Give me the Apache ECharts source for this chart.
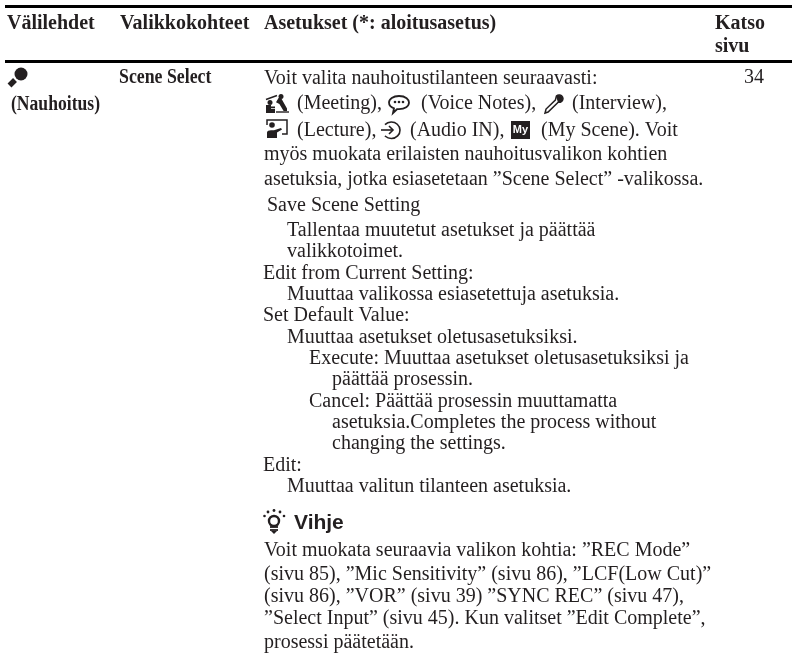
<!DOCTYPE html>
<html>
<head>
<meta charset="utf-8">
<style>html,body{margin:0;padding:0;background:#fff}#main{width:792px;height:654px}</style>
<script src="https://cdn.jsdelivr.net/npm/echarts@6/dist/echarts.min.js"></script>
</head>
<body>
<div id="main"></div>
<script>
// table content
var headerLabels = ["Välilehdet", "Valikkokohteet", "Asetukset (*: aloitusasetus)", "Katso", "sivu"];
var tabLabel = "(Nauhoitus)";
var menuLabel = "Scene Select";
var pageLabel = "34";
var sceneLine2 = ["(Meeting),", "(Voice Notes),", "(Interview),"];
var sceneLine3 = ["(Lecture),", "(Audio IN),", "(My Scene). Voit"];
var settingLines = [
	"Voit valita nauhoitustilanteen seuraavasti:",
	"myös muokata erilaisten nauhoitusvalikon kohtien",
	"asetuksia, jotka esiasetetaan ”Scene Select” -valikossa.",
	"Save Scene Setting",
	"Tallentaa muutetut asetukset ja päättää",
	"valikkotoimet.",
	"Edit from Current Setting:",
	"Muuttaa valikossa esiasetettuja asetuksia.",
	"Set Default Value:",
	"Muuttaa asetukset oletusasetuksiksi.",
	"Execute: Muuttaa asetukset oletusasetuksiksi ja",
	"päättää prosessin.",
	"Cancel: Päättää prosessin muuttamatta",
	"asetuksia.Completes the process without",
	"changing the settings.",
	"Edit:",
	"Muuttaa valitun tilanteen asetuksia."
];
var tipTitle = "Vihje";
var tipLines = [
	"Voit muokata seuraavia valikon kohtia: ”REC Mode”",
	"(sivu 85), ”Mic Sensitivity” (sivu 86), ”LCF(Low Cut)”",
	"(sivu 86), ”VOR” (sivu 39) ”SYNC REC” (sivu 47),",
	"”Select Input” (sivu 45). Kun valitset ”Edit Complete”,",
	"prosessi päätetään."
];

// where each line sits
var settingX = [264, 264, 264, 267, 287, 287, 263, 287, 263, 287, 309, 332, 309, 332, 332, 263, 287];
var settingY = [78, 154, 179, 205, 230, 251, 273, 294, 315, 337, 358, 379, 401, 422, 443, 465, 486];
var tipY = [550, 574, 596, 618, 642];

var SERIF = '"Liberation Serif"';
var INK = '#231f20';
var graphics = [];

// y is the centre of the lowercase letters, middle alignment sits 2px higher
function text(x, y, str, bold, size, family, squeeze) {
	graphics.push({
		type: 'text', x: x, y: y + 2, scaleX: squeeze || 1,
		style: {
			text: str, fill: INK, textVerticalAlign: 'middle',
			font: (bold ? 'bold ' : '') + (size || 20) + 'px ' + (family || SERIF)
		}
	});
}
function rule(y) {
	graphics.push({type: 'rect', shape: {x: 5, y: y, width: 787, height: 3}, style: {fill: '#000'}});
}

rule(5);
rule(60);

text(7, 22, headerLabels[0], true);
text(120, 22, headerLabels[1], true);
text(264, 22, headerLabels[2], true);
text(715, 22, headerLabels[3], true);
text(715, 45, headerLabels[4], true);

text(11, 103, tabLabel, true, 20, SERIF, 0.88);
text(119, 76, menuLabel, true, 20, SERIF, 0.89);
text(744, 76, pageLabel);

settingLines.forEach(function (line, i) {
	text(settingX[i], settingY[i] - 1, line);
});
text(297, 102, sceneLine2[0]);
text(421, 102, sceneLine2[1]);
text(572, 102, sceneLine2[2]);
text(297, 129, sceneLine3[0]);
text(410, 129, sceneLine3[1]);
text(541, 129, sceneLine3[2]);

text(294, 521, tipTitle, true, 21, '"Liberation Sans"');
tipLines.forEach(function (line, i) {
	text(264, tipY[i] - 1, line);
});

// small pictograms, drawn as shapes by a custom series
function filled(d, x, y, w, h) {
	return {type: 'path', shape: {pathData: d, layout: 'cover', x: x, y: y, width: w, height: h}, style: {fill: INK}};
}
function outlined(d, x, y, w, h, lw) {
	return {type: 'path', shape: {pathData: d, layout: 'cover', x: x, y: y, width: w, height: h},
		style: {fill: 'none', stroke: INK, lineWidth: lw || 1.6}};
}
function dot(cx, cy, r) {
	return {type: 'circle', shape: {cx: cx, cy: cy, r: r}, style: {fill: INK}};
}
function stroke(x1, y1, x2, y2, lw) {
	return {type: 'line', shape: {x1: x1, y1: y1, x2: x2, y2: y2}, style: {stroke: INK, lineWidth: lw, fill: 'none'}};
}
function ring(cx, cy, r, lw) {
	return {type: 'circle', shape: {cx: cx, cy: cy, r: r}, style: {fill: 'none', stroke: INK, lineWidth: lw}};
}
function drawIcons() {
	return {type: 'group', children: [
		// microphone
		dot(21, 74, 6.5),
		stroke(15, 80, 9.5, 85.5, 5.5),
		// meeting
		dot(270, 102.5, 2.5),
		filled('M0 0 L5 0 L5 2 L9 2 L9 4 L5 4 L5 5 L9 5 L9 10 L0 10 Z', 266, 105, 9, 8),
		stroke(266, 99.5, 277, 95.5, 1.4),
		dot(281, 96.5, 2.5),
		filled('M3 0 L6 0 L13 12 L13 15 L9 15 L4 7 L0 5 Z', 276, 98, 11, 13),
		stroke(276, 112, 289, 112, 1.4),
		// voice notes
		outlined('M11 1 C18 1 21 5 21 8 C21 12 17 15 11 15 L9 15 L5 19 L6 14 C3 13 1 11 1 8 C1 4 5 1 11 1 Z', 389, 96, 20, 17, 1.8),
		dot(395, 102, 1.3), dot(399, 102, 1.3), dot(403, 102, 1.3),
		// interview
		outlined('M12 2 C14 0 17 1 18 3 C19 5 18 7 16 8 L14 8 L4 18 L1 19 L2 15 L11 6 Z', 545, 95, 18, 18, 1.5),
		filled('M12 2 C14 0 17 1 18 3 C19 5 18 7 16 8 L14 8 Z', 556, 95, 7, 8),
		// lecture
		outlined('M0 5 L0 0 L20 0 L20 14 L15 14', 267, 120, 20, 14, 1.5),
		dot(272, 125, 2.8),
		filled('M0 10 L0 3 C0 1 2 0 4 0 L7 0 L14 -3 L15 -1 L10 3 L10 10 Z', 267, 128, 15, 10),
		// audio in
		outlined('M2 4 A8 8 0 1 1 2 15', 385, 122, 15, 16.5, 1.6),
		stroke(381, 130, 392, 130, 1.6),
		outlined('M0 0 L4 4 L0 8', 389, 126, 4, 8, 1.6),
		// my scene
		{type: 'rect', shape: {x: 511, y: 121, width: 19, height: 18}, style: {fill: INK}},
		{type: 'text', style: {x: 520.5, y: 130, text: 'My', fill: '#fff', font: 'bold 11px "Liberation Sans"', textAlign: 'center', textVerticalAlign: 'middle'}},
		// tip bulb
		ring(274, 521, 5, 2.4),
		stroke(270, 527, 278, 527, 1.8),
		stroke(270, 530, 278, 530, 1.8),
		filled('M0 0 L6 0 L3 3 Z', 271, 531, 6, 3),
		dot(274, 510.5, 1.4), dot(268, 512, 1.4), dot(280, 512, 1.4), dot(264.5, 516, 1.3), dot(284, 516, 1.3)
	]};
}

var chart = echarts.init(document.getElementById('main'), null, {renderer: 'canvas'});
chart.setOption({
	backgroundColor: '#fff',
	animation: false,
	graphic: {elements: graphics},
	series: [{type: 'custom', coordinateSystem: 'none', silent: true, data: [0], renderItem: drawIcons}]
});
</script>
</body>
</html>
